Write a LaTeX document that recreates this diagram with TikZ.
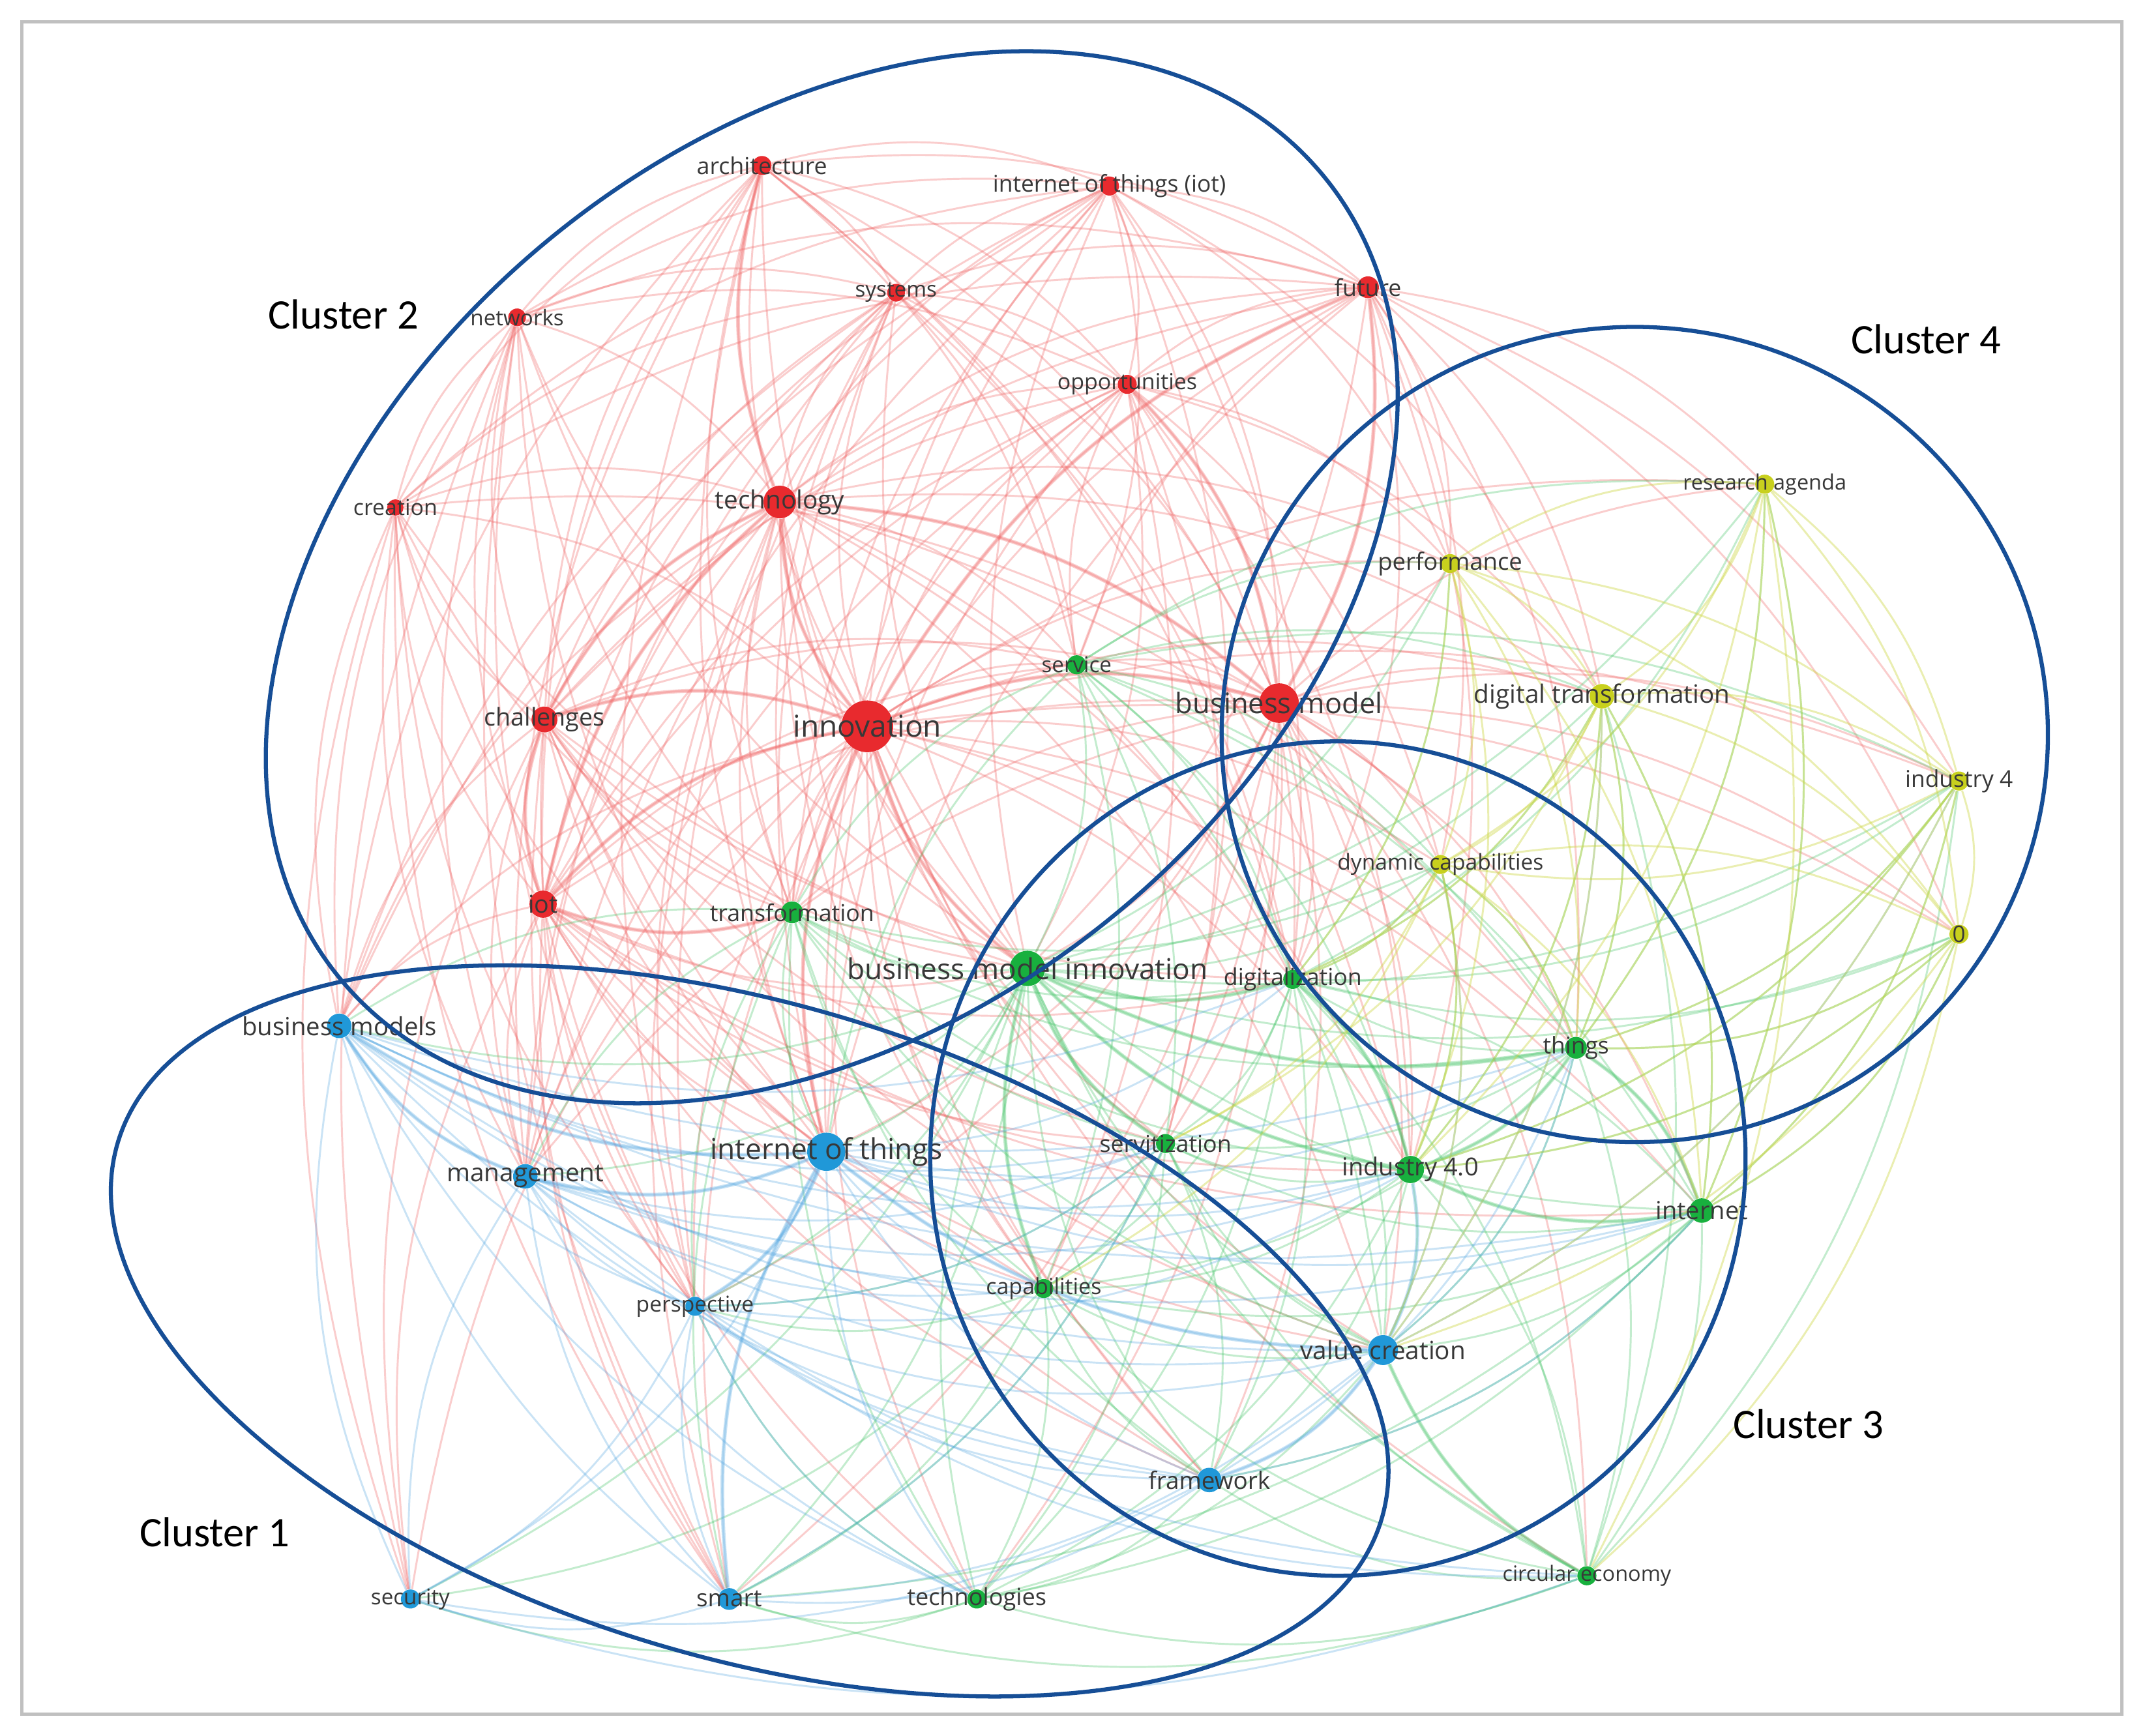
\documentclass[tikz,border=0pt]{standalone}
\usepackage{fontspec}
\setmainfont{Open Sans}
\newfontfamily\clfont{Carlito}
\usetikzlibrary{calc}
\pgfdeclarelayer{bglayer}
\pgfdeclarelayer{edgelayer}
\pgfsetlayers{bglayer,edgelayer,main}
\definecolor{cR}{RGB}{232,42,46}
\definecolor{cG}{RGB}{24,176,62}
\definecolor{cB}{RGB}{32,152,216}
\definecolor{cY}{RGB}{200,208,30}
\definecolor{eR}{RGB}{240,100,100}
\definecolor{eG}{RGB}{70,196,105}
\definecolor{eB}{RGB}{80,165,225}
\definecolor{eY}{RGB}{205,215,70}
\definecolor{clus}{RGB}{22,78,150}
\definecolor{framec}{RGB}{192,192,192}
\newcommand\vosedge[3]{\draw[#1] let \p1=(#2), \p2=(#3), \p3=(ctr),
  \n1={ifthenelse(((\x2-\x1)/100)*((\y3-\y1)/100)-((\y2-\y1)/100)*((\x3-\x1)/100)>0,18,-18)}
  in (#2) to[bend right=\n1] (#3);}
\begin{document}
\begin{tikzpicture}[x=0.02cm,y=-0.02cm,
  dot/.style={circle,inner sep=0pt,minimum size=#1*0.567pt},
  lbl/.style={text=black!78,inner sep=0pt,font=\fontsize{#1pt}{#1pt}\selectfont},
  edR/.style={draw=eR,line width=0.8pt,draw opacity=0.32},
  edG/.style={draw=eG,line width=0.8pt,draw opacity=0.32},
  edB/.style={draw=eB,line width=0.8pt,draw opacity=0.30},
  edY/.style={draw=eY,line width=0.8pt,draw opacity=0.42},
  strong/.style={line width=1.6pt},
  clusline/.style={draw=clus,line width=1.7pt},
  cllabel/.style={inner sep=0pt,font=\clfont\fontsize{17.5pt}{17.5pt}\selectfont}]
\begin{pgfonlayer}{bglayer}
\fill[white] (0,0) rectangle (1568,1269);
\end{pgfonlayer}
\useasboundingbox (0,0) rectangle (1568,1269);
\draw[framec,line width=1.3pt] (16,16) rectangle (1551,1253);
\coordinate (ctr) at (760,640);

% red
\node[dot=14,fill=cR] (arch) at (557,121) {};
\node[dot=14,fill=cR] (iotp) at (811,136) {};
\node[dot=13,fill=cR] (sys) at (655,214) {};
\node[dot=13,fill=cR] (net) at (378,232) {};
\node[dot=16,fill=cR] (fut) at (1000,210) {};
\node[dot=14,fill=cR] (opp) at (824,281) {};
\node[dot=12,fill=cR] (cre) at (289,371) {};
\node[dot=24,fill=cR] (tech) at (570,367) {};
\node[dot=19,fill=cR] (chal) at (398,526) {};
\node[dot=38,fill=cR] (inno) at (634,531) {};
\node[dot=29,fill=cR] (bm) at (935,514) {};
\node[dot=20,fill=cR] (iot) at (397,661) {};
% green
\node[dot=14,fill=cG] (serv) at (787,486) {};
\node[dot=16,fill=cG] (trans) at (579,667) {};
\node[dot=26,fill=cG] (bmi) at (751,708) {};
\node[dot=14,fill=cG] (dig) at (945,716) {};
\node[dot=16,fill=cG] (thi) at (1152,766) {};
\node[dot=14,fill=cG] (servz) at (852,836) {};
\node[dot=20,fill=cG] (ind40) at (1031,855) {};
\node[dot=18,fill=cG] (inet) at (1244,885) {};
\node[dot=14,fill=cG] (cap) at (763,942) {};
\node[dot=14,fill=cG] (techs) at (714,1169) {};
\node[dot=14,fill=cG] (ce) at (1160,1152) {};
% blue
\node[dot=18,fill=cB] (bms) at (248,750) {};
\node[dot=18,fill=cB] (mgmt) at (384,860) {};
\node[dot=28,fill=cB] (iotb) at (604,842) {};
\node[dot=14,fill=cB] (persp) at (508,955) {};
\node[dot=22,fill=cB] (vc) at (1011,987) {};
\node[dot=18,fill=cB] (fw) at (884,1082) {};
\node[dot=14,fill=cB] (sec) at (300,1169) {};
\node[dot=16,fill=cB] (smart) at (533,1169) {};
% yellow
\node[dot=14,fill=cY] (ra) at (1290,354) {};
\node[dot=14,fill=cY] (perf) at (1060,412) {};
\node[dot=18,fill=cY] (dt) at (1171,509) {};
\node[dot=14,fill=cY] (ind4) at (1432,571) {};
\node[dot=14,fill=cY] (dc) at (1053,632) {};
\node[dot=14,fill=cY] (zero) at (1432,683) {};

\begin{pgfonlayer}{edgelayer}
\foreach \s/\t in {arch/net,arch/sys,arch/iotp,arch/fut,arch/opp,arch/cre,arch/tech,arch/chal,arch/inno,arch/bm,arch/iot,arch/iotb,arch/mgmt,arch/bms,arch/trans,
 arch/dig,arch/bmi,arch/serv,arch/persp,arch/ind40,
 iotp/sys,iotp/fut,iotp/opp,iotp/tech,iotp/inno,iotp/bm,iotp/chal,iotp/iot,iotp/iotb,iotp/dig,iotp/serv,iotp/cre,iotp/net,iotp/bmi,
 iotp/trans,iotp/mgmt,iotp/bms,iotp/servz,iotp/perf,iotp/dt,
 sys/net,sys/fut,sys/opp,sys/tech,sys/inno,sys/bm,sys/chal,sys/iot,sys/iotb,sys/cre,
 sys/bmi,sys/dig,sys/trans,sys/mgmt,sys/bms,sys/serv,sys/persp,
 net/cre,net/tech,net/chal,net/inno,net/iot,net/bms,net/iotb,net/fut,net/opp,net/mgmt,
 net/trans,net/persp,net/sec,net/smart,net/bmi,
 fut/opp,fut/tech,fut/inno,fut/bm,fut/chal,fut/dt,fut/perf,fut/ra,fut/iotb,fut/bmi,fut/dig,fut/iot,fut/cre,fut/ind4,
 fut/serv,fut/trans,fut/dc,fut/thi,fut/zero,fut/ind40,
 opp/tech,opp/inno,opp/bm,opp/chal,opp/iot,opp/bmi,opp/iotb,opp/serv,opp/dig,opp/perf,
 opp/trans,opp/dt,opp/dc,opp/ind40,opp/servz,opp/cap,opp/mgmt,
 cre/tech,cre/chal,cre/inno,cre/iot,cre/bms,cre/iotb,cre/mgmt,cre/bm,
 cre/persp,cre/sec,cre/smart,cre/trans,cre/bmi,
 tech/chal,tech/inno,tech/bm,tech/iot,tech/iotb,tech/bmi,tech/serv,tech/trans,tech/mgmt,tech/bms,tech/dig,tech/perf,tech/ind40,
 tech/persp,tech/servz,tech/cap,tech/vc,tech/fw,tech/smart,tech/dt,tech/thi,
 chal/inno,chal/bm,chal/iot,chal/iotb,chal/bmi,chal/bms,chal/mgmt,chal/persp,chal/trans,chal/servz,chal/sec,
 chal/cap,chal/dig,chal/smart,chal/fw,chal/vc,chal/serv,
 inno/bm,inno/iot,inno/iotb,inno/bmi,inno/serv,inno/trans,inno/dig,inno/servz,inno/cap,inno/ind40,inno/vc,inno/fw,inno/mgmt,inno/bms,inno/persp,inno/dc,inno/perf,inno/dt,inno/thi,inno/inet,inno/techs,inno/smart,
 inno/ce,inno/sec,inno/zero,inno/ind4,inno/ra,
 bm/iot,bm/iotb,bm/bmi,bm/serv,bm/dig,bm/dc,bm/dt,bm/perf,bm/ra,bm/ind4,bm/zero,bm/vc,bm/ind40,bm/thi,bm/inet,bm/servz,bm/cap,bm/fw,bm/trans,bm/mgmt,
 bm/techs,bm/ce,bm/persp,bm/smart,
 iot/iotb,iot/bmi,iot/bms,iot/mgmt,iot/persp,iot/trans,iot/servz,iot/vc,iot/fw,iot/smart,iot/sec,iot/cap,iot/dig,
 iot/techs,iot/ind40,iot/serv,iot/inet}
  {\vosedge{edR}{\s}{\t}}
\foreach \s/\t in {tech/inno,chal/inno,inno/bm,inno/iot,inno/bmi,inno/iotb,tech/chal,tech/bm,chal/iot,iot/trans,tech/iot,fut/bm,opp/bm,fut/inno,arch/tech}
  {\vosedge{edR,strong}{\s}{\t}}
\foreach \s/\t in {serv/bmi,serv/trans,serv/dig,serv/servz,serv/cap,serv/ind40,serv/dc,serv/thi,serv/perf,serv/dt,
 serv/iotb,serv/vc,serv/inet,serv/ra,serv/ind4,
 trans/bmi,trans/dig,trans/iotb,trans/mgmt,trans/cap,trans/servz,trans/techs,trans/ind40,
 trans/persp,trans/vc,trans/fw,trans/smart,trans/bms,trans/thi,trans/dc,
 bmi/dig,bmi/thi,bmi/servz,bmi/ind40,bmi/inet,bmi/cap,bmi/techs,bmi/ce,bmi/vc,bmi/fw,bmi/iotb,bmi/mgmt,bmi/bms,bmi/persp,bmi/dc,bmi/dt,bmi/perf,bmi/smart,bmi/ra,bmi/ind4,
 bmi/sec,bmi/zero,
 dig/thi,dig/ind40,dig/inet,dig/dc,dig/dt,dig/servz,dig/vc,dig/cap,dig/ce,dig/ind4,dig/zero,
 dig/fw,dig/techs,dig/ra,dig/perf,
 thi/ind40,thi/inet,thi/dt,thi/dc,thi/ind4,thi/zero,thi/vc,thi/ra,thi/servz,thi/ce,
 servz/ind40,servz/cap,servz/vc,servz/fw,servz/inet,servz/techs,
 servz/ce,servz/smart,servz/persp,
 ind40/inet,ind40/vc,ind40/cap,ind40/fw,ind40/ce,ind40/dt,ind40/ind4,ind40/zero,ind40/dc,ind40/techs,
 inet/vc,inet/ce,inet/ind4,inet/zero,inet/dt,inet/ra,inet/fw,inet/cap,inet/smart,
 cap/techs,cap/vc,cap/fw,cap/ce,cap/persp,cap/smart,cap/sec,cap/thi,
 techs/vc,techs/fw,techs/smart,techs/ce,techs/sec,techs/persp,techs/inet,
 ce/vc,ce/fw,ce/dt,ce/ind4,ce/smart}
  {\vosedge{edG}{\s}{\t}}
\foreach \s/\t in {bmi/dig,bmi/ind40,bmi/servz,thi/inet,ind40/inet,thi/ind40,ce/vc,bmi/cap,bmi/thi,dig/ind40}
  {\vosedge{edG,strong}{\s}{\t}}
\foreach \s/\t in {bms/mgmt,bms/iotb,bms/persp,bms/sec,bms/smart,bms/vc,bms/fw,bms/techs,bms/cap,bms/servz,bms/ind40,
 bms/inet,bms/dig,bms/thi,
 mgmt/iotb,mgmt/persp,mgmt/sec,mgmt/smart,mgmt/vc,mgmt/fw,mgmt/techs,mgmt/cap,
 mgmt/servz,mgmt/ind40,mgmt/inet,mgmt/ce,
 iotb/persp,iotb/vc,iotb/fw,iotb/smart,iotb/sec,iotb/servz,iotb/ind40,iotb/cap,iotb/techs,iotb/inet,iotb/thi,iotb/dig,
 persp/smart,persp/vc,persp/fw,persp/sec,persp/techs,persp/servz,persp/ind40,persp/ce,
 vc/fw,vc/smart,vc/dt,vc/thi,vc/dc,vc/ind4,
 fw/smart,fw/sec,fw/thi,fw/inet,sec/smart,sec/ce,smart/servz}
  {\vosedge{edB}{\s}{\t}}
\foreach \s/\t in {bms/iotb,mgmt/iotb,iotb/vc,vc/fw,iotb/persp,vc/ind40,bms/mgmt,iotb/smart}
  {\vosedge{edB,strong}{\s}{\t}}
\foreach \s/\t in {ra/perf,ra/dt,ra/ind4,ra/zero,ra/dc,ra/inet,ra/thi,ra/ind40,ra/ce,
 perf/dt,perf/dc,perf/ind4,perf/zero,perf/ind40,perf/thi,perf/dig,perf/inet,
 dt/dc,dt/ind4,dt/zero,dt/inet,dt/ind40,dt/vc,dt/thi,dt/dig,dt/servz,
 ind4/zero,ind4/dc,ind4/inet,ind4/thi,ind4/ind40,ind4/vc,
 dc/zero,dc/ind40,dc/thi,dc/vc,dc/inet,dc/dig,dc/servz,dc/cap,
 zero/inet,zero/ind40,zero/thi,zero/vc,zero/ce}
  {\vosedge{edY}{\s}{\t}}
\end{pgfonlayer}

% labels
\node[lbl=9.7] (arch-l) at (arch) {architecture};
\node[lbl=9.6] (iotp-l) at (iotp) {internet of things (iot)};
\node[lbl=9] (sys-l) at (sys) {systems};
\node[lbl=9] (net-l) at (net) {networks};
\node[lbl=9.7] (fut-l) at (fut) {future};
\node[lbl=9.2] (opp-l) at (opp) {opportunities};
\node[lbl=9.2] (cre-l) at (cre) {creation};
\node[lbl=10.5] (tech-l) at (tech) {technology};
\node[lbl=10.2] (chal-l) at (chal) {challenges};
\node[lbl=12.5] (inno-l) at (inno) {innovation};
\node[lbl=11.8] (bm-l) at (bm) {business model};
\node[lbl=10.2] (iot-l) at (iot) {iot};
\node[lbl=9] (serv-l) at (serv) {service};
\node[lbl=9.7] (trans-l) at (trans) {transformation};
\node[lbl=12] (bmi-l) at (bmi) {business model innovation};
\node[lbl=9.7] (dig-l) at (dig) {digitalization};
\node[lbl=9.6] (thi-l) at (thi) {things};
\node[lbl=9.7] (servz-l) at (servz) {servitization};
\node[lbl=10.3] (ind40-l) at (ind40) {industry 4.0};
\node[lbl=10.3] (inet-l) at (inet) {internet};
\node[lbl=9.2] (cap-l) at (cap) {capabilities};
\node[lbl=9.8] (techs-l) at (techs) {technologies};
\node[lbl=8.8] (ce-l) at (ce) {circular economy};
\node[lbl=10.4] (bms-l) at (bms) {business models};
\node[lbl=10.5] (mgmt-l) at (mgmt) {management};
\node[lbl=12] (iotb-l) at (iotb) {internet of things};
\node[lbl=9.1] (persp-l) at (persp) {perspective};
\node[lbl=10.5] (vc-l) at (vc) {value creation};
\node[lbl=10] (fw-l) at (fw) {framework};
\node[lbl=9] (sec-l) at (sec) {security};
\node[lbl=10] (smart-l) at (smart) {smart};
\node[lbl=8.8] (ra-l) at (ra) {research agenda};
\node[lbl=9.9] (perf-l) at (perf) {performance};
\node[lbl=10.5] (dt-l) at (dt) {digital transformation};
\node[lbl=9.6] (ind4-l) at (ind4) {industry 4};
\node[lbl=9.1] (dc-l) at (dc) {dynamic capabilities};
\node[lbl=9.5] (zero-l) at (zero) {0};

% cluster outlines
\draw[clusline,rotate around={39:(608,422)}] (608,422) ellipse [x radius=464,y radius=322];
\draw[clusline,rotate around={-16.6:(548,973)}] (548,973) ellipse [x radius=482,y radius=239];
\draw[clusline] (978,847) ellipse [x radius=298,y radius=305];
\draw[clusline] (1195,537) ellipse [x radius=302,y radius=298];

\node[cllabel] (c2) at (251,230) {Cluster 2};
\node[cllabel] (c4) at (1408,248) {Cluster 4};
\node[cllabel] (c3) at (1322,1041) {Cluster 3};
\node[cllabel] (c1) at (157,1120) {Cluster 1};
\end{tikzpicture}
\end{document}
